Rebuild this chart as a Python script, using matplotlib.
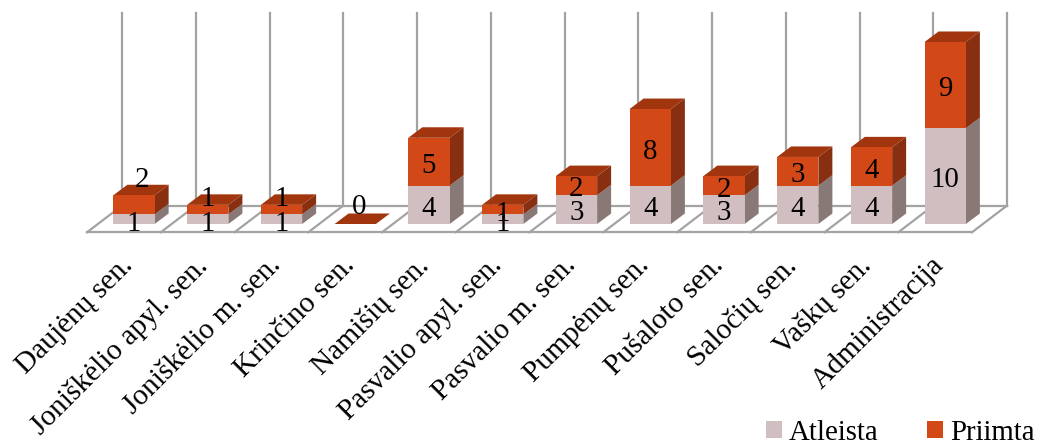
import matplotlib
matplotlib.use("Agg")
import matplotlib.pyplot as plt
import numpy as np

categories = [
    "Daujėnų sen.", "Joniškėlio apyl. sen.", "Joniškėlio m. sen.", "Krinčino sen.",
    "Namišių sen.", "Pasvalio apyl. sen.", "Pasvalio m. sen.", "Pumpėnų sen.",
    "Pušaloto sen.", "Saločių sen.", "Vaškų sen.", "Administracija",
]
atleista = [1, 1, 1, 0, 4, 1, 3, 4, 3, 4, 4, 10]
priimta = [2, 1, 1, 0, 5, 1, 2, 8, 2, 3, 4, 9]

# pixels per category slot / per unit, pixel position of the zero line
SLOT = 73.75
UNIT = 9.58
X0 = 87
Y0 = 224
DX = 14 / SLOT
DY = 10.5 / UNIT
FLOOR = -8.3 / UNIT
FLOOR_DX = 35 / SLOT
FLOOR_DY = 26.7 / UNIT
WALL_TOP = (Y0 - 13) / UNIT
BAR_W = 0.56
GRID = "#A3A3A3"

plt.rcParams["font.family"] = ["Liberation Serif", "DejaVu Serif"]
FS = 20.8

fig = plt.figure(figsize=(10.4, 4.43), dpi=100)
ax = fig.add_axes([0, 0, 1, 1])
ax.set_xlim(-X0 / SLOT, (1040 - X0) / SLOT)
ax.set_ylim((Y0 - 443) / UNIT, Y0 / UNIT)
ax.axis("off")

# walls and floor
n = len(categories)
for i in range(n + 1):
    ax.plot([i, i + FLOOR_DX], [FLOOR, FLOOR + FLOOR_DY], color=GRID, lw=1.6, zorder=1)
    ax.plot([i + FLOOR_DX, i + FLOOR_DX], [FLOOR + FLOOR_DY, WALL_TOP], color=GRID, lw=1.6, zorder=1)
ax.plot([0, n], [FLOOR, FLOOR], color=GRID, lw=1.6, zorder=1)
ax.plot([FLOOR_DX, n + FLOOR_DX], [FLOOR + FLOOR_DY, FLOOR + FLOOR_DY], color=GRID, lw=1.6, zorder=1)

x = np.arange(n) + 0.637
low = np.array(atleista, dtype=float)
high = np.array(priimta, dtype=float)


def draw_side(xs, bottom, top, color):
    for xi, b, t in zip(xs, bottom, top):
        r = xi + BAR_W / 2
        ax.fill([r, r + DX, r + DX, r], [b, b + DY, t + DY, t], color=color, lw=0, zorder=2)


draw_side(x, np.zeros(n), low, "#887876")
draw_side(x, low, low + high, "#872F10")
for xi, t in zip(x, low + high):
    l = xi - BAR_W / 2
    r = xi + BAR_W / 2
    ax.fill([l, r, r + DX, l + DX], [t, t, t + DY, t + DY], color="#A0350E", lw=0, zorder=2)

bars_a = ax.bar(x, low, BAR_W, color="#D1BEC0", label="Atleista", zorder=3)
bars_p = ax.bar(x, high, BAR_W, bottom=low, color="#D34817", label="Priimta", zorder=3)

# value labels, with the hand placed ones nudged in pixels
low_shift = [-2, -2, -2, 0, -1, -2, 0, -1, 0, -1, -1, -1]
high_shift = [(8, 28), (0, 14), (0, 14), (4, 20), (0, -1), (0, -1), (0, 0), (0, -2), (0, -1), (0, -1), (0, -1), (0, -1)]
for i, xi in enumerate(x):
    if atleista[i] > 0:
        ax.annotate(str(atleista[i]), (xi, low[i] / 2), xytext=(0, low_shift[i]), textcoords="offset pixels",
                    ha="center", va="center_baseline", fontsize=FS, color="black", zorder=5)
    ax.annotate(str(priimta[i]), (xi, low[i] + high[i] / 2), xytext=high_shift[i], textcoords="offset pixels",
                ha="center", va="center_baseline", fontsize=FS, color="black", zorder=5)

# category labels
for xi, name in zip(x, categories):
    ax.annotate(name, (xi, FLOOR), xytext=(-14, -20), textcoords="offset pixels",
                rotation=45, rotation_mode="anchor", ha="right", va="top",
                fontsize=21.2, color="black")

ax.legend(handles=[bars_a, bars_p], loc="lower right", bbox_to_anchor=(1.0, -0.02), ncol=2,
          frameon=False, fontsize=FS, handlelength=0.52, handleheight=0.52,
          handletextpad=0.25, columnspacing=1.7, borderaxespad=0, borderpad=0.2)

fig.savefig("out.png", dpi=100)
